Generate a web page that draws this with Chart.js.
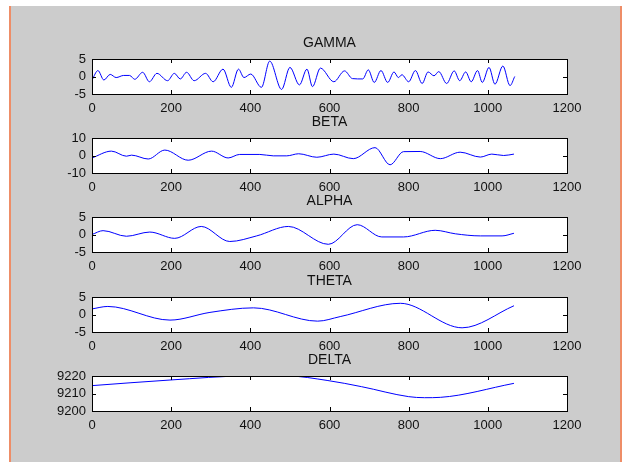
<!DOCTYPE html>
<html>
<head>
<meta charset="utf-8">
<script src="https://cdn.jsdelivr.net/npm/chart.js@4"></script>
<style>
  html, body { margin: 0; padding: 0; background: #fff; }
  #fig { position: absolute; left: 9px; top: 6px; width: 609px; height: 456px;
         background: #cccccc; border-left: 2px solid #ee8d67; border-right: 2px solid #ee8d67; }
  canvas { position: absolute; left: 0; }
</style>
</head>
<body>
<div id="fig"></div>
<canvas id="c0" width="625" height="95" style="top:29px"></canvas>
<canvas id="c1" width="625" height="95" style="top:108px"></canvas>
<canvas id="c2" width="625" height="95" style="top:187px"></canvas>
<canvas id="c3" width="625" height="95" style="top:267px"></canvas>
<canvas id="c4" width="625" height="95" style="top:346px"></canvas>
<script>
// 값은 그림에서 읽은 극값 위주 (sample index, amplitude)
const xTicks = [0, 200, 400, 600, 800, 1000, 1200];

const gammaX = [0, 15, 30, 46, 61, 80, 95, 108, 128, 145, 164, 191, 208, 223, 239, 258, 287, 306, 331, 352, 370, 384, 401, 428, 449, 479, 500, 524, 543, 557, 577, 611, 638, 658, 684, 698, 713, 730, 747, 763, 774, 783, 800, 817, 834, 849, 864, 876, 896, 915, 929, 944, 958, 974, 986, 1003, 1018, 1038, 1056, 1068];
const gammaY = [-1, 1.7, -1, 0.6, -0.3, 0.3, 0.3, -0.8, 1.2, -1.5, 0.9, -1.2, 0.9, -0.7, 1.2, -1.2, 0.9, -1.5, 2.1, -3.1, 2.1, -0.3, 0.7, -3.1, 4.4, -3.7, 2.6, -2.4, 2.1, -2.9, 2.4, -1.5, 1.6, -0.6, -0.7, 1.9, -1.7, 1.7, -1.7, 1.3, -0.3, 0.5, -1.5, 1.7, -2.0, 1.3, 0.2, 1.4, -2.0, 1.6, -1.2, 1.3, -1.5, 1.7, -1.7, 2.6, -2.2, 3.0, -2.6, 0.0];

const betaX = [0, 49, 87, 100, 142, 184, 243, 302, 344, 373, 424, 458, 492, 522, 568, 611, 660, 715, 753, 787, 829, 880, 930, 981, 1010, 1040, 1066];
const betaY = [-1.4, 2.5, -0.4, 0.2, -2.0, 3.1, -2.7, 2.5, -1.4, 0.6, 0.6, -0.2, -0.2, 1.0, -1.0, 0.8, -1.8, 4.5, -5.3, 2.2, 2.3, -1.8, 1.9, -0.9, 0.8, 0.0, 0.8];

const alphaX = [0, 28, 87, 146, 209, 276, 348, 416, 496, 597, 670, 732, 787, 867, 918, 981, 1036, 1066];
const alphaY = [0, 1.1, -0.5, 0.7, -1.1, 2.3, -2.0, -0.4, 2.3, -2.8, 2.8, -0.7, -0.7, 1.2, 0.2, -0.4, -0.4, 0.35];

const thetaX = [0, 40, 197, 298, 408, 570, 627, 779, 935, 1066];
const thetaY = [1.6, 2.3, -1.6, 0.6, 1.9, -1.9, -0.6, 3.2, -3.8, 2.5];

const deltaX = [0, 197, 392, 494, 596, 681, 800, 840, 880, 1066];
const deltaY = [9214.5, 9217.7, 9220, 9220, 9217.4, 9213.9, 9208.2, 9207.6, 9207.8, 9215.8];

const panels = [
  { id: 'c0', title: 'GAMMA', xs: gammaX, ys: gammaY, yTicks: [-5, 0, 5] },
  { id: 'c1', title: 'BETA', xs: betaX, ys: betaY, yTicks: [-10, 0, 10] },
  { id: 'c2', title: 'ALPHA', xs: alphaX, ys: alphaY, yTicks: [-5, 0, 5] },
  { id: 'c3', title: 'THETA', xs: thetaX, ys: thetaY, yTicks: [-5, 0, 5] },
  { id: 'c4', title: 'DELTA', xs: deltaX, ys: deltaY, yTicks: [9200, 9210, 9220] },
];

const FAMILY = '"Liberation Sans", Arial, sans-serif';
const FONT = { family: FAMILY, size: 13 };

// MATLAB 스타일 축 박스 + 안쪽 눈금 + 제목
const boxPlugin = {
  id: 'matlabBox',
  beforeDraw(chart) {
    const { ctx, chartArea: a } = chart;
    ctx.save();
    ctx.fillStyle = '#fff';
    ctx.fillRect(a.left, a.top, a.right - a.left, a.bottom - a.top);
    ctx.restore();
  },
  afterDraw(chart) {
    const { ctx, chartArea: a, scales: { x, y } } = chart;
    const tl = 4;
    ctx.save();
    ctx.strokeStyle = '#000';
    ctx.lineWidth = 1;
    ctx.strokeRect(Math.round(a.left) + 0.5, Math.round(a.top) + 0.5,
      Math.round(a.right - a.left), Math.round(a.bottom - a.top));
    ctx.beginPath();
    x.ticks.forEach(t => {
      const px = Math.round(x.getPixelForValue(t.value)) + 0.5;
      ctx.moveTo(px, a.bottom); ctx.lineTo(px, a.bottom - tl);
      ctx.moveTo(px, a.top); ctx.lineTo(px, a.top + tl);
    });
    y.ticks.forEach(t => {
      const py = Math.round(y.getPixelForValue(t.value)) + 0.5;
      ctx.moveTo(a.left, py); ctx.lineTo(a.left + tl, py);
      ctx.moveTo(a.right, py); ctx.lineTo(a.right - tl, py);
    });
    ctx.stroke();
    ctx.fillStyle = '#111';
    ctx.font = `14px ${FAMILY}`;
    ctx.textAlign = 'center';
    ctx.textBaseline = 'middle';
    ctx.fillText(chart.options.plugins.matlabBox.title, (a.left + a.right) / 2, a.top - 16);
    ctx.restore();
  },
};

panels.forEach(p => {
  new Chart(document.getElementById(p.id), {
    type: 'line',
    data: {
      datasets: [{
        data: p.xs.map((v, i) => ({ x: v, y: p.ys[i] })),
        borderColor: '#0000ff',
        borderWidth: 1,
        pointRadius: 0,
        fill: false,
        cubicInterpolationMode: 'monotone',
      }],
    },
    options: {
      responsive: false,
      animation: false,
      layout: { padding: { top: 30, left: 0, right: 58, bottom: 0 } },
      plugins: {
        legend: { display: false },
        tooltip: { enabled: false },
        matlabBox: { title: p.title },
      },
      scales: {
        x: {
          type: 'linear', min: 0, max: 1200,
          afterBuildTicks: s => { s.ticks = xTicks.map(v => ({ value: v })); },
          afterFit: s => { s.height = 30; },
          grid: { display: false, drawTicks: false },
          border: { display: false },
          ticks: { font: FONT, color: '#111', padding: 7, maxRotation: 0, autoSkip: false,
                   callback: v => String(v) },
        },
        y: {
          min: p.yTicks[0], max: p.yTicks[2],
          afterBuildTicks: s => { s.ticks = p.yTicks.map(v => ({ value: v })); },
          afterFit: s => { s.width = 92; },
          grid: { display: false, drawTicks: false },
          border: { display: false },
          ticks: { font: FONT, color: '#111', padding: 6, autoSkip: false,
                   callback: v => String(v) },
        },
      },
    },
    plugins: [boxPlugin],
  });
});
</script>
</body>
</html>
